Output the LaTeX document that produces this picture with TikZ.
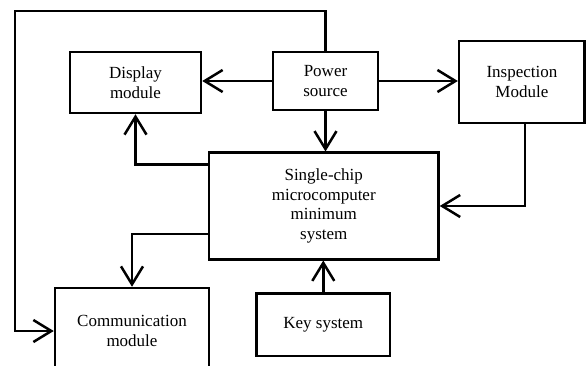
\documentclass[tikz,border=0pt]{standalone}
\usepackage{fontspec}
\setmainfont{Liberation Serif}
\usetikzlibrary{arrows.meta}
\begin{document}
\begin{tikzpicture}[x=1pt,y=-1pt,
  block/.style={draw, line width=2.5pt, inner sep=0pt, align=center,
    font=\fontsize{17}{19.5}\selectfont},
  link/.style={line width=2.5pt, line join=miter,
    -{Straight Barb[length=18pt,width=22pt,line width=2.5pt]}}]
\useasboundingbox (0,0) rectangle (586,366);
% blocks
\node[block, minimum width=131pt, minimum height=61pt] (display) at (135.5,82.5) {Display\\module};
\node[block, minimum width=105pt, minimum height=58pt] (power) at (325.5,81) {Power\\source};
\node[block, minimum width=125.6pt, minimum height=82pt] (insp) at (521.9,82) {Inspection\\Module};
\node[block, minimum width=229.5pt, minimum height=106.5pt] (mcu) at (323.75,206) {Single-chip\\microcomputer\\minimum\\system};
\node[block, minimum width=154pt, minimum height=86pt] (comm) at (132,331) {Communication\\module};
\node[block, minimum width=133.3pt, minimum height=62.7pt] (key) at (323.3,324.7) {Key system};
\coordinate (corner) at (15,11);
% connectors
\draw[link] (power.west) -- (power.west -| display.east);
\draw[link] (power.east) -- (power.east -| insp.west);
\draw[link] (power.south) -- (power.south |- mcu.north);
\draw[link] ([yshift=-13pt]mcu.north west) -| (display.south);
\draw[link] ([yshift=26.5pt]mcu.south west) -| (comm.north);
\draw[link] ([xshift=3pt]insp.south) |- (mcu.east);
\draw[link] (key.north) -- (mcu.south -| key.north);
\draw[link] (power.north) |- (corner) |- (comm.west);
\end{tikzpicture}
\end{document}
